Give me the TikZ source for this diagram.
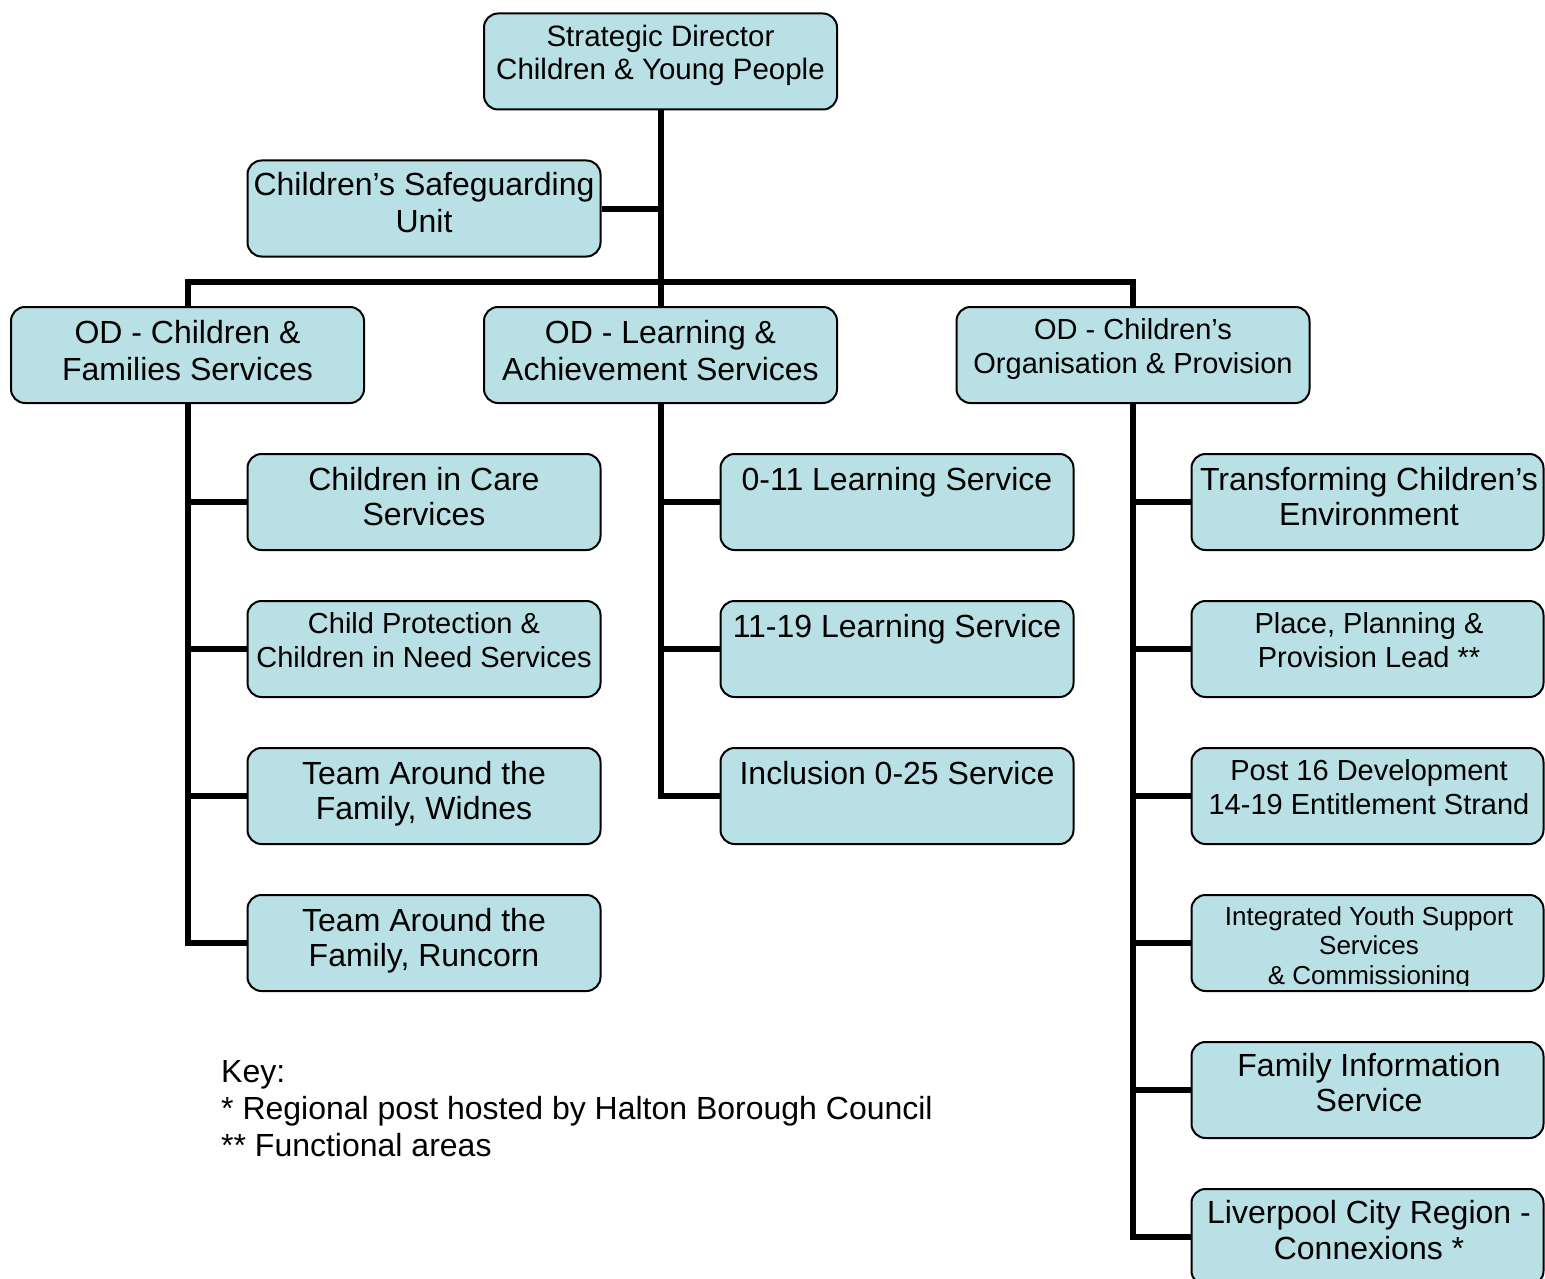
\documentclass[tikz,border=0pt]{standalone}
\usepackage{fontspec}
\setmainfont{Liberation Sans}
\usetikzlibrary{backgrounds}
\definecolor{boxfill}{RGB}{185,224,228}
\newcommand\boxlabel[6]{\node[lbl,font=\fontsize{#4}{#5}\selectfont,yshift=#4*0.8pt] (#1) at (#2,#3) {\rule{0pt}{0.8em}#6};}
\begin{document}
\begin{tikzpicture}[x=1pt,y=-1pt,
  box/.style={draw=black, line width=2pt, fill=boxfill, rounded corners=14pt,
    minimum width=353pt, minimum height=96pt, inner sep=0pt},
  rbox/.style={box, minimum width=352pt},
  conn/.style={line width=6pt, draw=black},
  lbl/.style={anchor=north, inner sep=0pt, align=center}]
\clip (0,0) rectangle (1545,1279);
% boxes
\node[box] (sd) at (660.5,61.5) {};
\node[box] (csu) at (424,208.5) {};
\node[box] (odcf) at (187.5,355) {};
\node[box] (odla) at (660.5,355) {};
\node[box] (odcp) at (1133,355) {};
\node[box] (lc1) at (424,502) {};
\node[box] (lc2) at (424,649) {};
\node[box] (lc3) at (424,796) {};
\node[box] (lc4) at (424,943) {};
\node[box] (mc1) at (897,502) {};
\node[box] (mc2) at (897,649) {};
\node[box] (mc3) at (897,796) {};
\node[rbox] (rc1) at (1367.5,502) {};
\node[rbox] (rc2) at (1367.5,649) {};
\node[rbox] (rc3) at (1367.5,796) {};
\node[rbox] (rc4) at (1367.5,943) {};
\node[rbox] (rc5) at (1367.5,1090) {};
\node[rbox] (rc6) at (1367.5,1237) {};
\coordinate (bar) at (660.5,282);
% connectors
\begin{scope}[on background layer]
\draw[conn] (sd.south) -- (odla.north);
\draw[conn] (csu.east) -- (csu.east -| sd.south);
\draw[conn] (odcf.north) |- (bar) -| (odcp.north);
\draw[conn] (odcf.south) |- (lc4.west);
\draw[conn] (lc1.west) -- (lc1.west -| odcf.south);
\draw[conn] (lc2.west) -- (lc2.west -| odcf.south);
\draw[conn] (lc3.west) -- (lc3.west -| odcf.south);
\draw[conn] (odla.south) |- (mc3.west);
\draw[conn] (mc1.west) -- (mc1.west -| odla.south);
\draw[conn] (mc2.west) -- (mc2.west -| odla.south);
\draw[conn] (odcp.south) |- (rc6.west);
\draw[conn] (rc1.west) -- (rc1.west -| odcp.south);
\draw[conn] (rc2.west) -- (rc2.west -| odcp.south);
\draw[conn] (rc3.west) -- (rc3.west -| odcp.south);
\draw[conn] (rc4.west) -- (rc4.west -| odcp.south);
\draw[conn] (rc5.west) -- (rc5.west -| odcp.south);
\end{scope}
% labels
\boxlabel{t-sd}{660.5}{46.5}{29.5}{32.5}{Strategic Director\\Children \& Young People}
\boxlabel{t-csu}{424}{195}{32}{37}{Children’s Safeguarding\\Unit}
\boxlabel{t-odcf}{187.5}{343}{32}{37}{OD - Children \&\\Families Services}
\boxlabel{t-odla}{660.5}{343}{32}{37}{OD - Learning \&\\Achievement Services}
\boxlabel{t-odcp}{1133}{339}{29}{34}{OD - Children’s\\Organisation \& Provision}
\boxlabel{t-lc1}{424}{490}{32}{35}{Children in Care\\Services}
\boxlabel{t-lc2}{424}{633}{29}{34}{Child Protection \&\\Children in Need Services}
\boxlabel{t-lc3}{424}{784}{32}{35}{Team Around the\\Family, Widnes}
\boxlabel{t-lc4}{424}{931}{32}{35}{Team Around the\\Family, Runcorn}
\boxlabel{t-mc1}{897}{490}{32}{35}{0-11 Learning Service}
\boxlabel{t-mc2}{897}{637}{32}{35}{11-19 Learning Service}
\boxlabel{t-mc3}{897}{784}{32}{35}{Inclusion 0-25 Service}
\boxlabel{t-rc1}{1369}{490}{32}{35}{Transforming Children’s\\Environment}
\boxlabel{t-rc2}{1369}{633}{29}{34}{Place, Planning \&\\Provision Lead **}
\boxlabel{t-rc3}{1369}{780}{29}{34}{Post 16 Development\\14-19 Entitlement Strand}
\begin{scope}
\clip (1192,900) rectangle (1545,985);
\boxlabel{t-rc4}{1369}{925}{26}{29.5}{Integrated Youth Support\\Services\\\& Commissioning}
\end{scope}
\boxlabel{t-rc5}{1369}{1076}{32}{35}{Family Information\\Service}
\boxlabel{t-rc6}{1369}{1223}{32}{36}{Liverpool City Region -\\Connexions *}
\node[anchor=north west, inner sep=0pt, align=left, font=\fontsize{32}{37}\selectfont, yshift=25.6pt] (key) at (221,1082)
  {\rule{0pt}{0.8em}Key:\\* Regional post hosted by Halton Borough Council\\** Functional areas};
\end{tikzpicture}
\end{document}
